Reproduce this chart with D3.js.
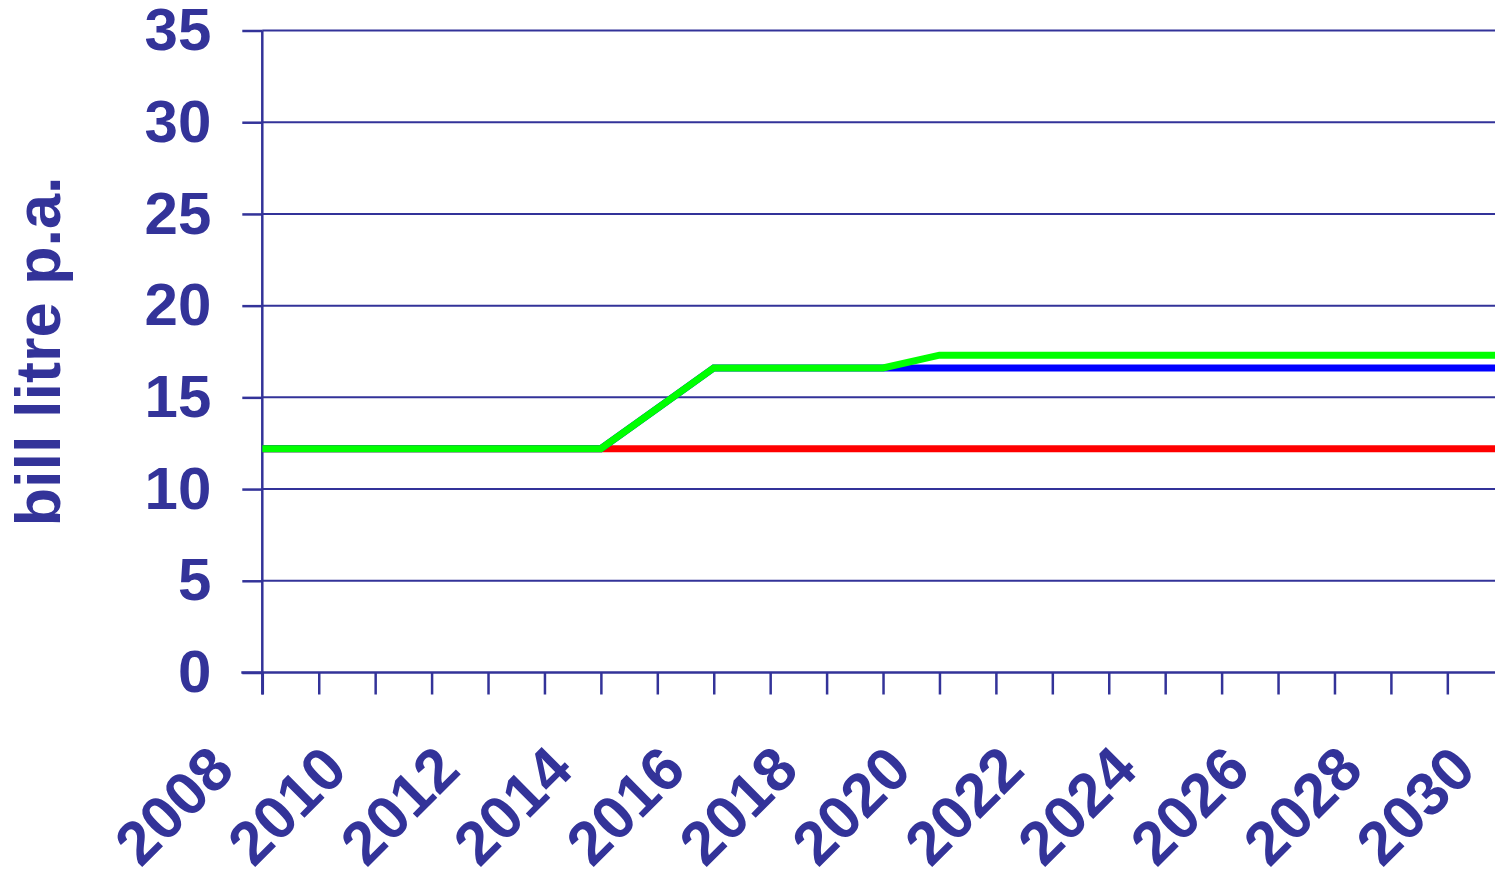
<!DOCTYPE html>
<html>
<head>
<meta charset="utf-8">
<script src="https://cdn.jsdelivr.net/npm/d3@7"></script>
<style>
  body { margin: 0; background: #fff; }
  svg { display: block; }
  text { font-family: "Liberation Sans", Arial, sans-serif; font-weight: bold; fill: #333399; }
</style>
</head>
<body>
<svg id="chart" width="1495" height="870"></svg>
<script>
// categories
const years = [2008, 2009, 2010, 2011, 2012, 2013, 2014, 2015, 2016, 2017, 2018, 2019,
               2020, 2021, 2022, 2023, 2024, 2025, 2026, 2027, 2028, 2029, 2030];

// series (bill litre p.a.)
const redValues   = [12.2, 12.2, 12.2, 12.2, 12.2, 12.2, 12.2, 12.2, 12.2, 12.2, 12.2, 12.2,
                     12.2, 12.2, 12.2, 12.2, 12.2, 12.2, 12.2, 12.2, 12.2, 12.2, 12.2];
const blueValues  = [12.2, 12.2, 12.2, 12.2, 12.2, 12.2, 12.2, 14.4, 16.6, 16.6, 16.6, 16.6,
                     16.6, 16.6, 16.6, 16.6, 16.6, 16.6, 16.6, 16.6, 16.6, 16.6, 16.6];
const greenValues = [12.2, 12.2, 12.2, 12.2, 12.2, 12.2, 12.2, 14.4, 16.6, 16.6, 16.6, 16.6,
                     17.3, 17.3, 17.3, 17.3, 17.3, 17.3, 17.3, 17.3, 17.3, 17.3, 17.3];

const yTicks = [0, 5, 10, 15, 20, 25, 30, 35];
const yTitle = "bill litre p.a.";

const navy = "#333399";

const svg = d3.select("#chart");

// plot box (right side runs past the picture edge, like the original)
const plotLeft = 262.3, plotTop = 30.5, plotBottom = 672.5, step = 56.43;
const plotRight = plotLeft + step * (years.length - 1);

const x = d3.scaleLinear().domain([years[0], years[years.length - 1]]).range([plotLeft, plotRight]);
const y = d3.scaleLinear().domain([0, 35]).range([plotBottom, plotTop]);

// gridlines
svg.append("g")
  .selectAll("line")
  .data(yTicks.filter(d => d > 0))
  .enter().append("line")
    .attr("x1", plotLeft).attr("x2", plotRight)
    .attr("y1", d => y(d)).attr("y2", d => y(d))
    .attr("stroke", navy)
    .attr("stroke-width", 2);

// x axis
const xAxis = svg.append("g")
  .attr("transform", "translate(0," + plotBottom + ")")
  .call(d3.axisBottom(x)
    .tickValues(years)
    .tickSize(22)
    .tickFormat(d => d % 2 === 0 ? String(d) : ""));

xAxis.select(".domain").remove();
xAxis.append("line")
  .attr("x1", plotLeft - 21).attr("x2", plotRight)
  .attr("stroke", navy).attr("stroke-width", 2.5);
xAxis.selectAll(".tick line").attr("stroke", navy).attr("stroke-width", 2.5);
xAxis.selectAll(".tick text")
  .attr("x", null).attr("y", null).attr("dy", null)
  .attr("text-anchor", "end")
  .attr("transform", "translate(-26,100) rotate(-45)")
  .style("font-size", "61px")
  .attr("fill", navy);

// y axis
const yAxis = svg.append("g")
  .attr("transform", "translate(" + plotLeft + ",0)")
  .call(d3.axisLeft(y).tickValues(yTicks).tickSize(20).tickPadding(31));

yAxis.select(".domain").remove();
yAxis.append("line")
  .attr("y1", plotTop).attr("y2", plotBottom + 22)
  .attr("stroke", navy).attr("stroke-width", 2.5);
yAxis.selectAll(".tick line").attr("stroke", navy).attr("stroke-width", 2.5);
yAxis.selectAll(".tick text")
  .style("font-size", "60px")
  .attr("fill", navy);

xAxis.attr("font-family", null).attr("font-size", null);
yAxis.attr("font-family", null).attr("font-size", null);

// axis title
svg.append("text")
  .attr("transform", "translate(60," + ((plotTop + plotBottom) / 2) + ") rotate(-90)")
  .attr("text-anchor", "middle")
  .style("font-size", "63px")
  .text(yTitle);

// lines
const line = d3.line()
  .x((d, i) => x(years[i]))
  .y(d => y(d));

const series = [
  { name: "red", values: redValues, color: "#ff0000" },
  { name: "blue", values: blueValues, color: "#0000ff" },
  { name: "green", values: greenValues, color: "#00ff00" }
];

svg.append("g")
  .selectAll("path")
  .data(series)
  .enter().append("path")
    .attr("d", d => line(d.values))
    .attr("fill", "none")
    .attr("stroke", d => d.color)
    .attr("stroke-width", 7)
    .attr("stroke-linejoin", "miter");
</script>
</body>
</html>
